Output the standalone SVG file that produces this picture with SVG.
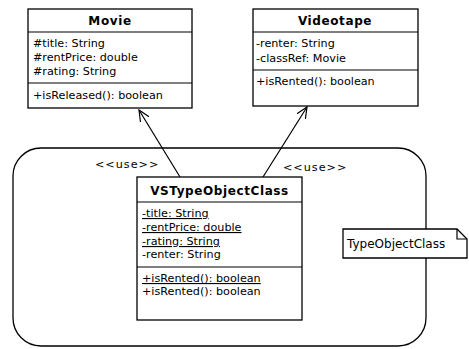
<svg xmlns="http://www.w3.org/2000/svg" width="469" height="349" viewBox="0 0 469 349">
<defs>
<style>
.box{fill:#fff;stroke:#000;stroke-width:1.3}
.ln{stroke:#000;stroke-width:1.2;fill:none}
text{font-family:"DejaVu Sans","Liberation Sans",sans-serif;font-size:11.2px;fill:#000}
.t{font-weight:bold;text-anchor:middle;font-size:12px;letter-spacing:0.6px}
.u{text-decoration:underline}
.s{letter-spacing:1px}
.n{font-size:12px}
</style>
<marker id="open" viewBox="0 0 12 12" refX="11" refY="6" markerWidth="12" markerHeight="12" markerUnits="userSpaceOnUse" orient="auto">
<path d="M0,1 L11,6 L0,11" fill="none" stroke="#000" stroke-width="1.2"/>
</marker>
</defs>
<rect width="469" height="349" fill="#fff"/>
<g id="container">
<rect x="13" y="148" width="413" height="198" rx="28" ry="28" fill="#fff" stroke="#000" stroke-width="1.3"/>
</g>
<g id="connectors">
<line class="ln" x1="180" y1="177" x2="139" y2="110" marker-end="url(#open)"/>
<line class="ln" x1="263" y1="177" x2="307" y2="107" marker-end="url(#open)"/>
<text class="s" x="95" y="168">&lt;&lt;use&gt;&gt;</text>
<text class="s" x="283" y="171">&lt;&lt;use&gt;&gt;</text>
</g>
<g id="movie">
<rect class="box" x="28" y="9" width="164" height="99"/>
<line class="ln" x1="28" y1="32" x2="192" y2="32"/>
<line class="ln" x1="28" y1="83" x2="192" y2="83"/>
<text class="t" x="110" y="25">Movie</text>
<text x="33" y="47">#title: String</text>
<text x="33" y="61">#rentPrice: double</text>
<text x="33" y="75">#rating: String</text>
<text x="33" y="99">+isReleased(): boolean</text>
</g>
<g id="videotape">
<rect class="box" x="253" y="9" width="165" height="97"/>
<line class="ln" x1="253" y1="32" x2="418" y2="32"/>
<line class="ln" x1="253" y1="70" x2="418" y2="70"/>
<text class="t" x="335" y="25">Videotape</text>
<text x="256" y="47">-renter: String</text>
<text x="256" y="62">-classRef: Movie</text>
<text x="256" y="85">+isRented(): boolean</text>
</g>
<g id="vstypeobjectclass">
<rect class="box" x="137" y="177" width="165" height="143"/>
<line class="ln" x1="137" y1="202" x2="302" y2="202"/>
<line class="ln" x1="137" y1="267" x2="302" y2="267"/>
<text class="t" x="219.5" y="195">VSTypeObjectClass</text>
<text class="u" x="142" y="217">-title: String</text>
<text class="u" x="142" y="231">-rentPrice: double</text>
<text class="u" x="142" y="245">-rating: String</text>
<text x="142" y="258">-renter: String</text>
<text class="u" x="142" y="282">+isRented(): boolean</text>
<text x="142" y="295">+isRented(): boolean</text>
</g>
<g id="note">
<path class="box" d="M343,229 H457 L467,239 V258 H343 Z"/>
<path class="ln" d="M457,229 V239 H467"/>
<text class="n" x="347" y="248">TypeObjectClass</text>
</g>
</svg>
